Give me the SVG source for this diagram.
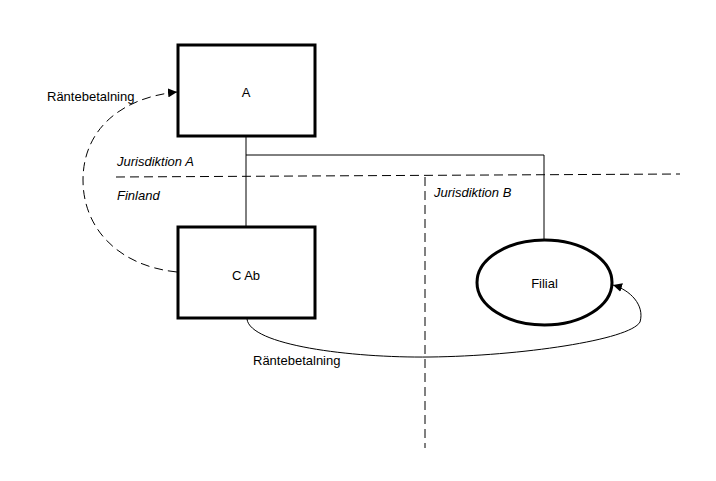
<svg xmlns="http://www.w3.org/2000/svg" width="716" height="481" viewBox="0 0 716 481">
<style>
text{font-family:"Liberation Sans",Arial,sans-serif;font-size:13px;fill:#000}
.it{font-style:italic}
.box{fill:#fff;stroke:#000;stroke-width:3}
.ln{fill:none;stroke:#000;stroke-width:1}
.dash{fill:none;stroke:#000;stroke-width:1;stroke-dasharray:9,5}
</style>
<defs>
<marker id="ah" viewBox="0 0 10 10" refX="10" refY="5" markerWidth="9" markerHeight="9" markerUnits="userSpaceOnUse" orient="auto">
<path d="M0,0 L10,5 L0,10 z" fill="#000"/>
</marker>
</defs>
<rect width="716" height="481" fill="#fff"/>
<g id="boundaries">
<path class="dash" d="M116,177 L680,174"/>
<path class="dash" d="M425,177 L425,448"/>
<text class="it" x="117" y="166">Jurisdiktion A</text>
<text class="it" x="117" y="200">Finland</text>
<text class="it" x="434" y="197">Jurisdiktion B</text>
</g>
<g id="connectors">
<path class="ln" d="M246,136 L246,227"/>
<path class="ln" d="M246,155 L544,155 L544,240"/>
<path class="dash" d="M177,272 C118,266 83,228 83,180 C83,132 118,98 177,92" marker-end="url(#ah)"/>
<path class="ln" d="M247,319 C250,345 350,358 430,357 C520,356 630,340 640,322 C645,305 630,290 613,285" marker-end="url(#ah)"/>
<text x="47" y="101">Räntebetalning</text>
<text x="253" y="365">Räntebetalning</text>
</g>
<g id="nodeA">
<rect class="box" x="178" y="45" width="137" height="91"/>
<text x="246" y="97" text-anchor="middle">A</text>
</g>
<g id="nodeC">
<rect class="box" x="178" y="227" width="137" height="91"/>
<text x="246" y="280" text-anchor="middle">C Ab</text>
</g>
<g id="nodeFilial">
<ellipse class="box" cx="544.5" cy="282.5" rx="67.5" ry="42.5"/>
<text x="544.5" y="288" text-anchor="middle">Filial</text>
</g>
</svg>
